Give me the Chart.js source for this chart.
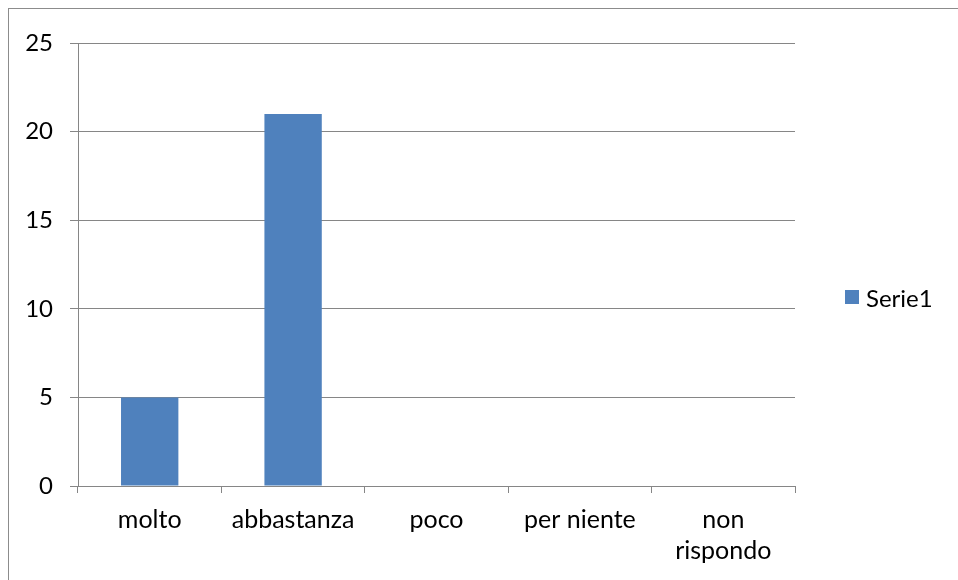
<!DOCTYPE html>
<html>
<head>
<meta charset="utf-8">
<script src="https://cdn.jsdelivr.net/npm/chart.js@4"></script>
<style>
html,body{margin:0;padding:0;background:#fff;}
#wrap{position:absolute;left:0;top:0;width:958px;height:580px;}
</style>
</head>
<body>
<div id="wrap"><canvas id="c" width="958" height="580"></canvas></div>
<script>
const categories = ['molto', 'abbastanza', 'poco', 'per niente', ['non', 'rispondo']];
const serie1 = [5, 21, 0, 0, 0];
const seriesLabel = 'Serie1';
const yTicks = [0, 5, 10, 15, 20, 25];

const FONT = 'Lato, "Open Sans", sans-serif';
const GRID = '#868686';
const BAR = '#4F81BD';

const framePlugin = {
  id: 'frame',
  beforeDraw(chart) {
    const ctx = chart.ctx;
    ctx.save();
    ctx.strokeStyle = '#8c8c8c';
    ctx.lineWidth = 1;
    ctx.strokeRect(8.5, 8.5, 1000, 1000);
    ctx.restore();
  }
};

const legendPlugin = {
  id: 'customLegend',
  afterDraw(chart) {
    const ctx = chart.ctx;
    const ds = chart.data.datasets[0];
    const y = 297;
    ctx.save();
    ctx.fillStyle = ds.backgroundColor;
    ctx.fillRect(845, y - 7, 14, 14);
    ctx.fillStyle = '#000';
    ctx.font = '24px ' + FONT;
    ctx.textBaseline = 'middle';
    ctx.textAlign = 'left';
    ctx.fillText(ds.label, 866, y + 2);
    ctx.restore();
  }
};

new Chart(document.getElementById('c'), {
  type: 'bar',
  data: {
    labels: categories,
    datasets: [{
      label: seriesLabel,
      data: serie1,
      backgroundColor: BAR,
      borderWidth: 0,
      categoryPercentage: 1,
      barPercentage: 0.4
    }]
  },
  options: {
    responsive: false,
    animation: false,
    layout: { padding: { left: 0, right: 163, top: 43, bottom: 0 } },
    plugins: { legend: { display: false }, tooltip: { enabled: false } },
    scales: {
      x: {
        offset: true,
        grid: { offset: true, drawOnChartArea: false, drawTicks: true, tickLength: 7, color: GRID, lineWidth: 1 },
        border: { display: true, color: GRID, width: 1 },
        ticks: { color: '#000', font: { family: FONT, size: 25, lineHeight: 1.26 }, padding: 11, maxRotation: 0, autoSkip: false },
        afterFit(scale) { scale.height = 94; }
      },
      y: {
        min: 0, max: 25,
        afterBuildTicks(scale) { scale.ticks = yTicks.map(v => ({ value: v })); },
        grid: { drawTicks: true, tickLength: 8, color: GRID, lineWidth: 1 },
        border: { display: true, color: GRID, width: 1 },
        ticks: { color: '#000', font: { family: FONT, size: 24 }, padding: 17 },
        afterFit(scale) { scale.width = 78; }
      }
    }
  },
  plugins: [framePlugin, legendPlugin]
});
</script>
</body>
</html>
